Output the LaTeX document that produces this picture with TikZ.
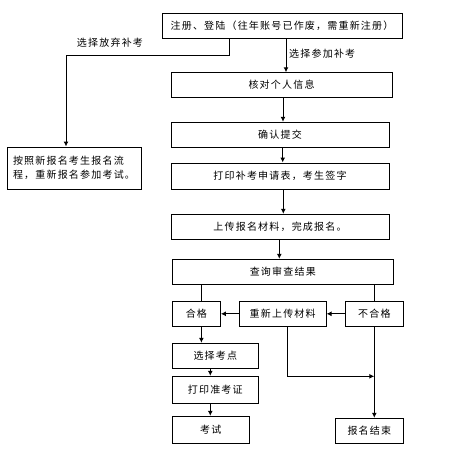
\documentclass[tikz,border=0pt]{standalone}
\usepackage{fontspec}
\newfontfamily\cjk[LetterSpace=12]{Noto Sans CJK SC}
\usetikzlibrary{arrows.meta}

\tikzset{
    stepbox/.style={draw, line width=1pt, inner sep=0pt, font=\cjk\fontsize{10}{14}\selectfont},
    flow/.style={line width=1pt, -{Latex[length=5pt,width=5pt]}},
    link/.style={line width=1pt},
    note/.style={font=\cjk\fontsize{10}{12}\selectfont, inner sep=0pt}
}

\begin{document}
\begin{tikzpicture}[x=1pt, y=-1pt]
    \useasboundingbox (0,0) rectangle (469,475);

    % main column
    \node[stepbox, minimum width=240pt, minimum height=25pt] (reg) at (282,25.5) {注册、登陆（往年账号已作废，需重新注册）};
    \node[stepbox, minimum width=221pt, minimum height=24.5pt] (check) at (281.5,85) {核对个人信息};
    \node[stepbox, minimum width=218pt, minimum height=25pt] (confirm) at (280,134.8) {确认提交};
    \node[stepbox, minimum width=218pt, minimum height=26pt] (print) at (280,176) {打印补考申请表，考生签字};
    \node[stepbox, minimum width=218pt, minimum height=25pt] (upload) at (280,226.8) {上传报名材料，完成报名。};
    \node[stepbox, minimum width=221pt, minimum height=25pt] (query) at (282.8,271.8) {查询审查结果};

    % left branch
    \node[stepbox, minimum width=134pt, minimum height=42pt, align=left] (newreg) at (74,168) {按照新报名考生报名流\\程，重新报名参加考试。};

    % result row
    \node[stepbox, minimum width=48pt, minimum height=25.5pt] (pass) at (196.4,313.8) {合格};
    \node[stepbox, minimum width=86.7pt, minimum height=25.5pt] (reup) at (282.7,313.8) {重新上传材料};
    \node[stepbox, minimum width=58pt, minimum height=25.5pt] (fail) at (374.3,313.8) {不合格};

    % after passing
    \node[stepbox, minimum width=86pt, minimum height=25pt] (site) at (215.3,355.8) {选择考点};
    \node[stepbox, minimum width=86pt, minimum height=27pt] (ticket) at (215.3,389.8) {打印准考证};
    \node[stepbox, minimum width=77pt, minimum height=27pt] (exam) at (210.8,429.8) {考试};
    \node[stepbox, minimum width=68pt, minimum height=25pt] (end) at (369.3,430.8) {报名结束};

    % labels
    \node[note] (giveup) at (110,42.7) {选择放弃补考};
    \node[note, anchor=west] (takeup) at (289,54) {选择参加补考};

    % connectors
    \draw[flow] ([xshift=4pt]reg.south) -- ([xshift=4pt]reg.south |- check.north);
    \draw[flow] ([xshift=-53pt]reg.south) -- ++(0,17) -| ([xshift=-8pt]newreg.north);
    \draw[flow] ([xshift=1.5pt]check.south) -- ([xshift=1.5pt]check.south |- confirm.north);
    \draw[flow] ([xshift=2.7pt]confirm.south) -- ([xshift=2.7pt]confirm.south |- print.north);
    \draw[flow] ([xshift=3.3pt]print.south) -- ([xshift=3.3pt]print.south |- upload.north);
    \draw[flow] ([xshift=-0.7pt]upload.south) -- ([xshift=-0.7pt]upload.south |- query.north);
    \draw[link] (pass.north -| 201.7,0) -- (query.south -| 201.7,0);
    \draw[link] (fail.north) -- (fail.north |- query.south);
    \draw[flow] (fail.west) -- (reup.east);
    \draw[flow] (reup.west) -- (pass.west -| pass.east);
    \draw[flow] ([xshift=5pt]pass.south) -- ([xshift=5pt]pass.south |- site.north);
    \draw[flow] ([xshift=-5pt]site.south) -- ([xshift=-5pt]site.south |- ticket.north);
    \draw[flow] ([xshift=-5pt]ticket.south) -- ([xshift=-5pt]ticket.south |- exam.north);
    \coordinate (merge) at (fail.south |- 0,376.3);
    \draw[flow] ([xshift=4.6pt]reup.south) |- (merge);
    \draw[flow] (fail.south) -- (fail.south |- end.north);
\end{tikzpicture}
\end{document}
